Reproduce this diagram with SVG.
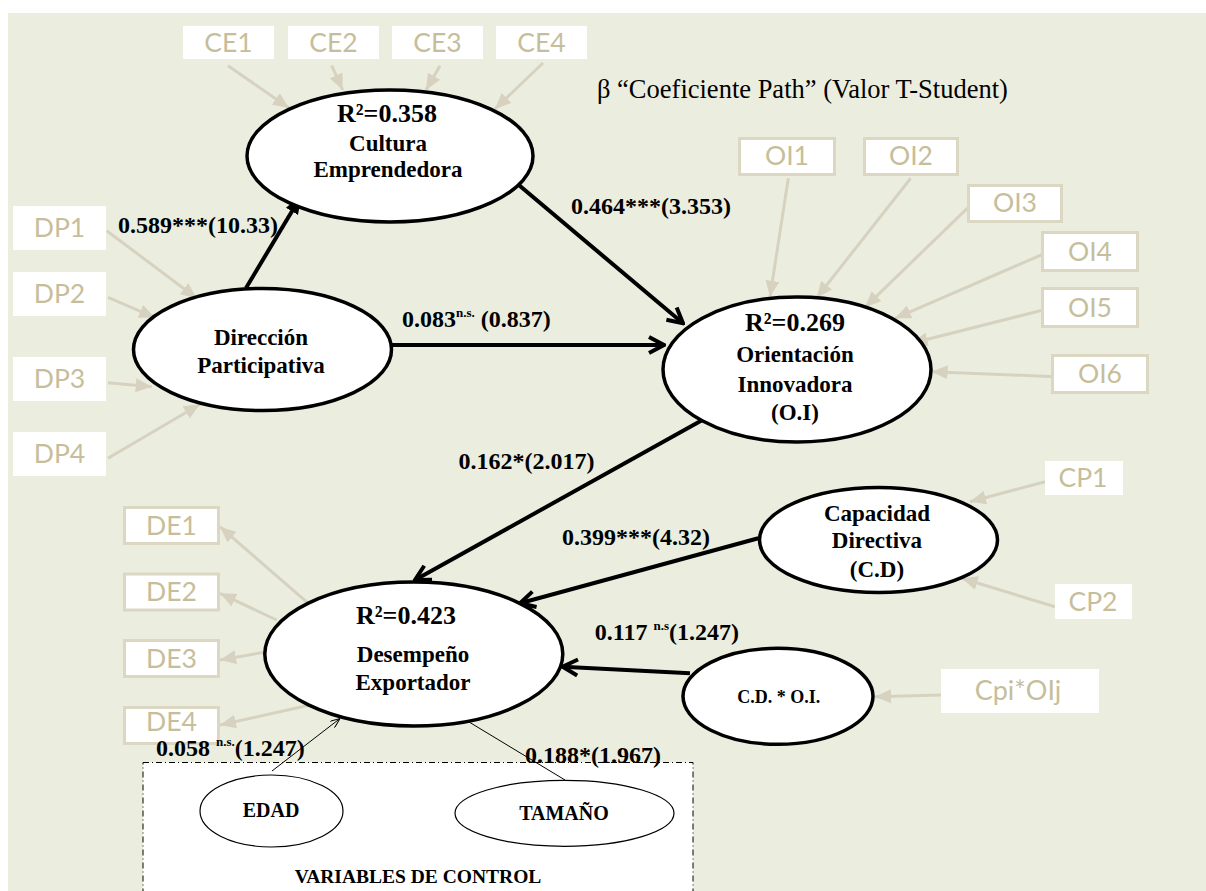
<svg xmlns="http://www.w3.org/2000/svg" width="1206" height="891" viewBox="0 0 1206 891">
<style>
.bg{fill:#EBEEDF}
.ind{fill:#FFFFFF}
.indb{fill:#FFFFFF;stroke:#DCD7C3;stroke-width:3}
.it{font-family:Lato,"Open Sans",sans-serif;font-size:26.5px;fill:#C6BE9B;text-anchor:middle}
.lv{fill:#FFFFFF;stroke:#000;stroke-width:3.5}
.cv{fill:#FFFFFF;stroke:#000;stroke-width:1.2}
.nt{font-family:"Liberation Serif","Times New Roman",serif;font-weight:bold;font-size:23px;fill:#000;text-anchor:middle}
.r2{font-size:26px}
.lbl{font-family:"Liberation Serif","Times New Roman",serif;font-weight:bold;font-size:24px;fill:#000}
.sup{font-size:13px}
.thick{stroke:#000;stroke-width:4;fill:none}
.light{stroke:#D7D2BF;stroke-width:3;fill:none}
.thin{stroke:#000;stroke-width:1;fill:none}
</style>
<defs>
<marker id="ah" viewBox="0 0 20 20" markerUnits="userSpaceOnUse" markerWidth="20" markerHeight="20" refX="18" refY="10" orient="auto">
<path d="M3,2 L18,10 L3,18" fill="none" stroke="#000" stroke-width="4"/>
</marker>
<marker id="ahs" viewBox="0 0 20 20" markerUnits="userSpaceOnUse" markerWidth="20" markerHeight="20" refX="19" refY="10" orient="auto">
<path d="M0,3 L19,10 L0,17 z" fill="#000"/>
</marker>
<marker id="lt" viewBox="0 0 16 14" markerUnits="userSpaceOnUse" markerWidth="16" markerHeight="14" refX="16" refY="7" orient="auto">
<path d="M0,0 L16,7 L0,14 z" fill="#D7D2BF"/>
</marker>
<marker id="th" viewBox="0 0 10 8" markerUnits="userSpaceOnUse" markerWidth="10" markerHeight="8" refX="10" refY="4" orient="auto">
<path d="M0,0 L10,4 L0,8" fill="none" stroke="#000" stroke-width="1"/>
</marker>
</defs>

<rect class="bg" x="8" y="13" width="1198" height="878"/>

<!-- control variables box -->
<g id="control-box">
<rect x="143" y="762.5" width="550" height="140" fill="#FFFFFF" stroke="#000" stroke-width="1" stroke-dasharray="6,3,1,3"/>
<text class="nt" x="418" y="883" style="font-size:19.5px">VARIABLES DE CONTROL</text>
</g>

<text class="lbl" x="597" y="98" style="font-weight:normal;font-size:26.5px">β “Coeficiente Path” (Valor T-Student)</text>

<g id="connectors">
<!-- structural paths -->
<line class="thick" x1="246" y1="288" x2="301.7" y2="195" marker-end="url(#ahs)"/>
<line class="thick" x1="516.7" y1="183.3" x2="683" y2="323.3" marker-end="url(#ah)"/>
<line class="thick" x1="392" y1="345" x2="664" y2="345" marker-end="url(#ah)"/>
<line class="thick" x1="702.4" y1="420" x2="415" y2="580" marker-end="url(#ah)"/>
<line class="thick" x1="758.3" y1="538.3" x2="520" y2="603.3" marker-end="url(#ah)"/>
<line class="thick" x1="690" y1="673.3" x2="562.6" y2="666.7" marker-end="url(#ah)"/>
<!-- control variables -->
<line class="thin" x1="272" y1="771" x2="340" y2="718.5" marker-end="url(#th)"/>
<line class="thin" x1="565" y1="780" x2="457.5" y2="715" marker-end="url(#th)"/>
<!-- CE indicators -->
<line class="light" x1="228" y1="65.7" x2="289" y2="108" marker-end="url(#lt)"/>
<line class="light" x1="331.7" y1="65.7" x2="342.7" y2="90" marker-end="url(#lt)"/>
<line class="light" x1="440" y1="65.7" x2="426" y2="90" marker-end="url(#lt)"/>
<line class="light" x1="543" y1="63" x2="495" y2="109" marker-end="url(#lt)"/>
<!-- DP indicators -->
<line class="light" x1="106.7" y1="230.7" x2="196.7" y2="298.3" marker-end="url(#lt)"/>
<line class="light" x1="108" y1="297.3" x2="155" y2="317.7" marker-end="url(#lt)"/>
<line class="light" x1="108" y1="382.7" x2="151.7" y2="386.7" marker-end="url(#lt)"/>
<line class="light" x1="108" y1="458.3" x2="200" y2="404.3" marker-end="url(#lt)"/>
<!-- OI indicators -->
<line class="light" x1="788.3" y1="178.3" x2="770" y2="296.7" marker-end="url(#lt)"/>
<line class="light" x1="910.7" y1="178.3" x2="816.7" y2="297.7" marker-end="url(#lt)"/>
<line class="light" x1="968.3" y1="207.3" x2="865" y2="307.3" marker-end="url(#lt)"/>
<line class="light" x1="1045" y1="253.3" x2="895" y2="318.3" marker-end="url(#lt)"/>
<line class="light" x1="1043.3" y1="310" x2="911.7" y2="343.3" marker-end="url(#lt)"/>
<line class="light" x1="1055" y1="376.7" x2="931.7" y2="371.7" marker-end="url(#lt)"/>
<!-- CP indicators -->
<line class="light" x1="1045" y1="481.7" x2="970" y2="501.7" marker-end="url(#lt)"/>
<line class="light" x1="1055" y1="606.7" x2="961.7" y2="578.3" marker-end="url(#lt)"/>
<line class="light" x1="941" y1="695" x2="875" y2="696.7" marker-end="url(#lt)"/>
<!-- DE indicators (reflective) -->
<line class="light" x1="308.3" y1="603.3" x2="220" y2="526.7" marker-end="url(#lt)"/>
<line class="light" x1="276.7" y1="620" x2="220" y2="593.3" marker-end="url(#lt)"/>
<line class="light" x1="276.7" y1="650" x2="220" y2="660" marker-end="url(#lt)"/>
<line class="light" x1="310" y1="705" x2="220" y2="725" marker-end="url(#lt)"/>
</g>

<!-- latent variables -->
<g id="cultura">
<ellipse class="lv" cx="390" cy="156" rx="143" ry="66"/>
<text class="nt r2" x="387" y="122">R²=0.358</text>
<text class="nt" x="388" y="151">Cultura</text>
<text class="nt" x="388" y="177">Emprendedora</text>
</g>
<g id="direccion">
<ellipse class="lv" cx="262.5" cy="349.5" rx="129" ry="61"/>
<text class="nt" x="261" y="345">Dirección</text>
<text class="nt" x="261" y="373">Participativa</text>
</g>
<g id="orientacion">
<ellipse class="lv" cx="797" cy="369.5" rx="134" ry="72.5"/>
<text class="nt r2" x="795" y="331">R²=0.269</text>
<text class="nt" x="795" y="362">Orientación</text>
<text class="nt" x="795" y="392">Innovadora</text>
<text class="nt" x="795" y="420">(O.I)</text>
</g>
<g id="capacidad">
<ellipse class="lv" cx="878.5" cy="540" rx="119" ry="52.5"/>
<text class="nt" x="877" y="521">Capacidad</text>
<text class="nt" x="877" y="548">Directiva</text>
<text class="nt" x="877" y="577">(C.D)</text>
</g>
<g id="interaccion">
<ellipse class="lv" cx="778" cy="696.3" rx="95" ry="48"/>
<text class="nt" x="778.7" y="703" style="font-size:18px">C.D. * O.I.</text>
</g>
<g id="desempeno">
<ellipse class="lv" cx="413.8" cy="654" rx="149" ry="72"/>
<text class="nt r2" x="406" y="623.5">R²=0.423</text>
<text class="nt" x="413" y="662">Desempeño</text>
<text class="nt" x="413" y="690">Exportador</text>
</g>
<g id="edad">
<ellipse class="cv" cx="271.5" cy="811" rx="71.5" ry="36"/>
<text class="nt" x="271" y="817" style="font-size:20px">EDAD</text>
</g>
<g id="tamano">
<ellipse class="cv" cx="564.5" cy="813.3" rx="109.5" ry="33"/>
<text class="nt" x="564" y="820" style="font-size:20px">TAMAÑO</text>
</g>

<!-- indicators -->
<g id="CE1"><rect class="ind" x="183" y="26" width="91" height="33"/><text class="it" x="228.5" y="52">CE1</text></g>
<g id="CE2"><rect class="ind" x="288" y="26" width="91" height="33"/><text class="it" x="333.5" y="52">CE2</text></g>
<g id="CE3"><rect class="ind" x="392" y="26" width="91" height="33"/><text class="it" x="437.5" y="52">CE3</text></g>
<g id="CE4"><rect class="ind" x="496" y="26" width="91" height="33"/><text class="it" x="541.5" y="52">CE4</text></g>

<g id="DP1"><rect class="ind" x="13" y="206" width="93" height="44"/><text class="it" x="59.5" y="237">DP1</text></g>
<g id="DP2"><rect class="ind" x="13" y="272" width="93" height="44"/><text class="it" x="59.5" y="303">DP2</text></g>
<g id="DP3"><rect class="ind" x="13" y="357" width="93" height="44"/><text class="it" x="59.5" y="388">DP3</text></g>
<g id="DP4"><rect class="ind" x="13" y="432" width="93" height="44"/><text class="it" x="59.5" y="463">DP4</text></g>

<g id="OI1"><rect class="indb" x="739.5" y="138.5" width="95" height="36"/><text class="it" x="787" y="165">OI1</text></g>
<g id="OI2"><rect class="indb" x="864.5" y="138.5" width="93" height="36"/><text class="it" x="911" y="165">OI2</text></g>
<g id="OI3"><rect class="indb" x="968.5" y="185.5" width="93" height="36"/><text class="it" x="1015" y="212">OI3</text></g>
<g id="OI4"><rect class="indb" x="1042.5" y="232.5" width="95" height="38"/><text class="it" x="1090" y="260.5">OI4</text></g>
<g id="OI5"><rect class="indb" x="1042.5" y="288.5" width="95" height="38"/><text class="it" x="1090" y="316.5">OI5</text></g>
<g id="OI6"><rect class="indb" x="1052.5" y="355.5" width="95" height="37"/><text class="it" x="1100" y="383">OI6</text></g>

<g id="CP1"><rect class="ind" x="1045" y="461" width="78" height="34"/><text class="it" x="1083" y="487">CP1</text></g>
<g id="CP2"><rect class="ind" x="1055" y="584" width="77" height="35"/><text class="it" x="1093" y="610.5">CP2</text></g>
<g id="CPIOIJ"><rect class="ind" x="941" y="669" width="158" height="44"/><text class="it" x="1018" y="700" style="font-size:27px">Cpi*OIj</text></g>

<g id="DE1"><rect class="indb" x="124.5" y="507.5" width="94" height="36"/><text class="it" x="171.5" y="535">DE1</text></g>
<g id="DE2"><rect class="indb" x="124.5" y="574" width="94" height="36"/><text class="it" x="171.5" y="601">DE2</text></g>
<g id="DE3"><rect class="indb" x="124.5" y="640.5" width="94" height="36"/><text class="it" x="171.5" y="668">DE3</text></g>
<g id="DE4"><rect class="indb" x="124.5" y="707.5" width="94" height="36"/><text class="it" x="171.5" y="731">DE4</text></g>

<!-- path labels (on top) -->
<g id="labels">
<text class="lbl" x="118" y="233">0.589***(10.33)</text>
<text class="lbl" x="731" y="213.5" text-anchor="end">0.464***(3.353)</text>
<text class="lbl" x="402" y="327">0.083<tspan class="sup" dy="-10">n.s.</tspan><tspan dy="10"> (0.837)</tspan></text>
<text class="lbl" x="458.5" y="468.5">0.162*(2.017)</text>
<text class="lbl" x="710" y="545" text-anchor="end">0.399***(4.32)</text>
<text class="lbl" x="739" y="640" text-anchor="end">0.117 <tspan class="sup" dy="-10">n.s</tspan><tspan dy="10">(1.247)</tspan></text>
<text class="lbl" x="156" y="756">0.058 <tspan class="sup" dy="-10">n.s.</tspan><tspan dy="10">(1.247)</tspan></text>
<text class="lbl" x="525" y="763">0.188*(1.967)</text>
</g>
</svg>
